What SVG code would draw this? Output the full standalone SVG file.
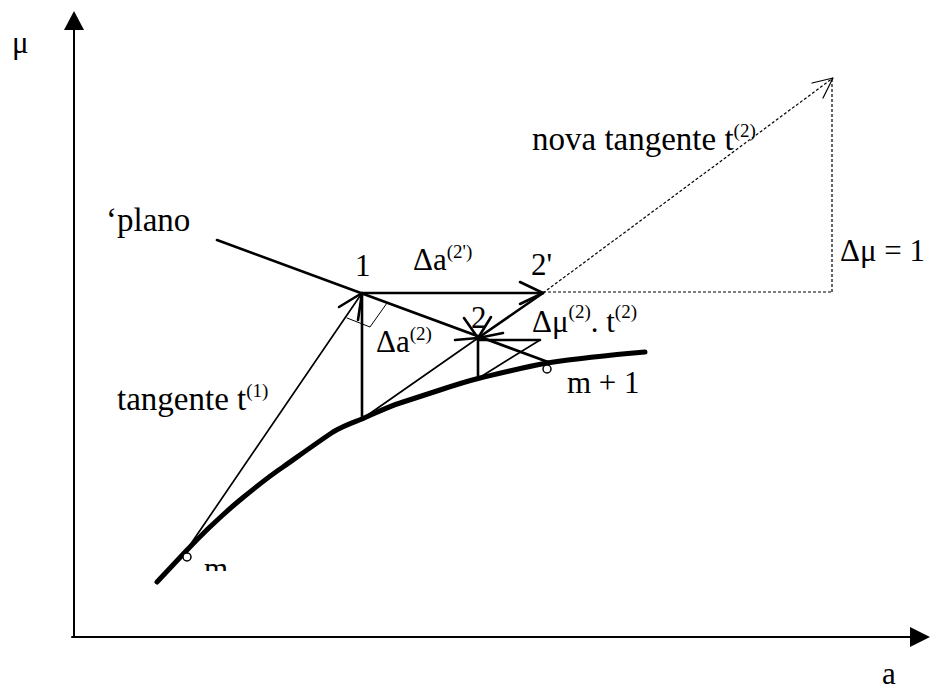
<svg xmlns="http://www.w3.org/2000/svg" width="931" height="691" viewBox="0 0 931 691">
<style>
text{font-family:"Liberation Serif","Times New Roman",serif;fill:#000}
.t{font-size:33px}
.l{font-size:31px}
.s{font-size:19px}
.ln{stroke:#000;fill:none;stroke-linecap:round;stroke-linejoin:round}
.w{stroke-width:2.6}
.th{stroke-width:1.7}
.ax{stroke-width:2}
.d{stroke-width:1.2;stroke-dasharray:3 2;stroke-linecap:butt}
</style>
<defs>
<clipPath id="clipM"><rect x="190" y="540" width="60" height="31"/></clipPath>
</defs>
<rect width="931" height="691" fill="#fff"/>
<g id="axes">
<line class="ln ax" x1="74" y1="637" x2="74" y2="28"/>
<polygon points="74,11 64,30 84,30" fill="#000"/>
<line class="ln ax" x1="72" y1="637" x2="912" y2="637"/>
<polygon points="930,637 910,627 910,647" fill="#000"/>
</g>
<g id="curve">
<path class="ln" stroke-width="5" d="M157,582 L187,550 C205,531 222,515 240,500 C262,482 268,477 283,467 C300,455 318,442 333,432 C345,425 352,423 362,419 C380,411 390,406 400,403 C415,398 428,394 440,390 C455,385 468,381 480,378 C505,372 525,367 547,363 C580,358 610,355 645,352"/>
<circle cx="187" cy="557" r="4" fill="#fff" stroke="#000" stroke-width="1.5"/>
<circle cx="547" cy="369" r="4" fill="#fff" stroke="#000" stroke-width="1.5"/>
</g>
<g id="connectors">
<line class="ln w" x1="217" y1="240" x2="548" y2="362"/>
<line class="ln th" x1="188" y1="548" x2="362" y2="293"/>
<polyline class="ln w" points="339,307 362,293 358,320"/>
<polyline class="ln" stroke-width="1" points="387,303 370,327 347,318"/>
<line class="ln w" x1="362" y1="293" x2="362" y2="419"/>
<line class="ln w" x1="362" y1="293" x2="543" y2="293"/>
<polyline class="ln w" points="520,282 543,293 520,304"/>
<line class="ln w" x1="543" y1="293" x2="478" y2="338"/>
<polyline class="ln w" points="491,317 478,338 503,333"/>
<line class="ln th" x1="362" y1="419" x2="478" y2="338"/>
<polyline class="ln w" points="464,318 478,338 455,340"/>
<line class="ln w" x1="478" y1="338" x2="478" y2="378"/>
<line class="ln w" x1="478" y1="340" x2="540" y2="340"/>
<line class="ln th" x1="540" y1="340" x2="482" y2="376"/>
<line class="ln d" x1="543" y1="293" x2="833" y2="78"/>
<polyline class="ln" stroke-width="1.2" points="812,83 833,78 823,98"/>
<line class="ln d" x1="832" y1="79" x2="832" y2="292"/>
<line class="ln d" x1="543" y1="292" x2="832" y2="292"/>
</g>
<g id="labels">
<text class="l" x="12" y="53">μ</text>
<text class="t" x="106" y="231">‘plano</text>
<text class="l" x="355" y="276">1</text>
<text class="l" x="413" y="270">Δa<tspan class="s" dy="-12">(2')</tspan></text>
<text class="l" x="531" y="275">2'</text>
<text class="l" x="471" y="328">2</text>
<text class="l" x="376" y="352">Δa<tspan class="s" dy="-12">(2)</tspan></text>
<text class="l" x="532" y="332">Δμ<tspan class="s" dy="-14">(2)</tspan><tspan dy="14">. t</tspan><tspan class="s" dy="-14">(2)</tspan></text>
<text class="l" x="567" y="393">m + 1</text>
<text class="t" x="117" y="410">tangente t<tspan class="s" dy="-13">(1)</tspan></text>
<text class="l" x="204" y="579" clip-path="url(#clipM)">m</text>
<text class="t" x="532" y="150">nova tangente t<tspan class="s" dy="-13">(2)</tspan></text>
<text class="l" x="840" y="261">Δμ = 1</text>
<text class="l" x="882" y="684">a</text>
</g>
</svg>
